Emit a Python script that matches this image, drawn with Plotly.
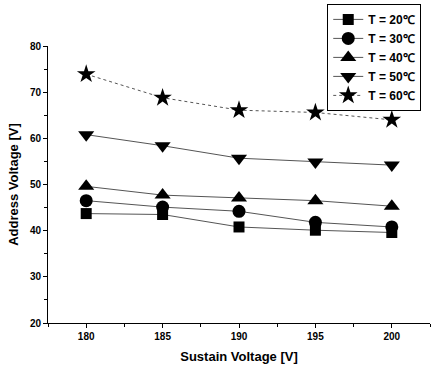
import plotly.graph_objects as go

sustain = [180, 185, 190, 195, 200]
v20 = [43.7, 43.5, 40.8, 40.1, 39.6]
v30 = [46.5, 45.1, 44.2, 41.8, 40.8]
v40 = [49.6, 47.7, 47.1, 46.5, 45.3]
v50 = [60.8, 58.4, 55.7, 54.9, 54.2]
v60 = [73.9, 68.8, 66.1, 65.6, 64.0]

names = ["T = 20℃", "T = 30℃", "T = 40℃", "T = 50℃", "T = 60℃"]
series = [v20, v30, v40, v50, v60]
symbols = ["square", "circle", "triangle-up", "triangle-down", "star"]
sizes = [11, 13, 14, 14, 14]
dashes = ["solid", "solid", "solid", "solid", "dot"]

FONT = "Liberation Sans, Arial, sans-serif"

fig = go.Figure()
for n, s, sym, sz, d in zip(names, series, symbols, sizes, dashes):
    fig.add_trace(go.Scatter(
        x=sustain, y=s, name=n, mode="lines+markers",
        line=dict(color="#555555", width=1, dash=d),
        marker=dict(symbol=sym, size=sz, color="black", line=dict(width=0)),
    ))

fig.update_layout(
    width=431, height=366,
    margin=dict(l=48, r=1, t=46, b=43),
    paper_bgcolor="white", plot_bgcolor="white",
    font=dict(family=FONT, color="black", size=10, weight="bold"),
    showlegend=True,
    hovermode=False,
    legend=dict(
        x=0.731, y=1.152, xanchor="left", yanchor="top",
        bordercolor="black", borderwidth=1, bgcolor="white",
        font=dict(family=FONT, size=12, weight="bold", color="black"),
        tracegroupgap=0, itemwidth=30,
    ),
    xaxis=dict(
        range=[177.5, 202.5], tickvals=sustain, ticktext=[str(v) for v in sustain],
        showgrid=False, zeroline=False, showline=True, linecolor="black", linewidth=1,
        ticks="outside", ticklen=4, tickcolor="black",
        minor=dict(dtick=2.5, tick0=177.5, ticks="outside", ticklen=3, tickcolor="black"),
        tickfont=dict(size=10, weight="bold"),
        title=dict(text="Sustain Voltage [V]", font=dict(size=13, weight="bold"), standoff=10),
    ),
    yaxis=dict(
        range=[20, 80], dtick=10, tick0=20,
        showgrid=False, zeroline=False, showline=True, linecolor="black", linewidth=1,
        ticks="outside", ticklen=4, tickcolor="black",
        minor=dict(dtick=5, ticks="outside", ticklen=3, tickcolor="black"),
        tickfont=dict(size=10, weight="bold"),
        title=dict(text="Address Voltage [V]", font=dict(size=13, weight="bold"), standoff=8),
    ),
)

fig.write_html("out.html", config={"displayModeBar": False},
               post_script="document.body.style.margin='0';")
